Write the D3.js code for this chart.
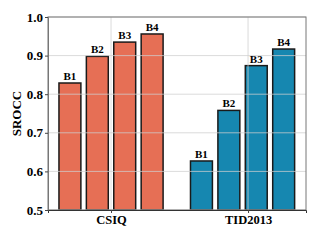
<!DOCTYPE html>
<html lang="en">
<head>
    <meta charset="UTF-8">
    <title>SROCC bars</title>
    <style>
        body { margin: 0; background: #fff; }
        svg { display: block; font-family: 'Liberation Serif', 'DejaVu Serif', serif; font-weight: bold; }
    </style>
</head>
<body>
    <svg width="320" height="240"></svg>
    <script src="https://d3js.org/d3.v7.min.js"></script>
    <script>
        const datasets = ["CSIQ", "TID2013"];
        const tickPos = [0, 1];          // category tick positions (x units)
        const groupPos = [0, 0.96];      // where each group of bars is centred
        const blocks = ["B1", "B2", "B3", "B4"];
        const blockOffsets = [-0.3, -0.1, 0.1, 0.3];
        const csiqValues = [0.829, 0.898, 0.935, 0.956];
        const tidValues = [0.627, 0.758, 0.874, 0.917];
        const yTicks = [0.5, 0.6, 0.7, 0.8, 0.9, 1.0];
        const colors = ["#E66F55", "#1687B0"];
        const barWidth = 0.16;

        const rows = [];
        datasets.forEach((ds, i) => {
            const vals = i === 0 ? csiqValues : tidValues;
            blocks.forEach((b, j) => rows.push({ g: i, block: b, pos: groupPos[i] + blockOffsets[j], value: vals[j] }));
        });

        const margin = { top: 17, right: 14, bottom: 30, left: 48 };
        const width = 320, height = 240;
        const svg = d3.select("svg");

        const x = d3.scaleLinear().domain([-0.46, 1.423]).range([margin.left, width - margin.right]);
        const y = d3.scaleLinear().domain([0.5, 1.0]).range([height - margin.bottom, margin.top]);

        // bars
        svg.append("g").selectAll("rect").data(rows).join("rect")
            .attr("x", d => x(d.pos - barWidth / 2))
            .attr("y", d => y(d.value))
            .attr("width", x(barWidth) - x(0))
            .attr("height", d => y(0.5) - y(d.value))
            .attr("fill", d => colors[d.g])
            .attr("stroke", "#1a1a1a").attr("stroke-width", 1.5);

        // grid (drawn over the bars, faint)
        const grid = svg.append("g").attr("stroke", "#cfcfcf").attr("stroke-opacity", 0.75).attr("stroke-width", 1);
        grid.selectAll("line.h").data(yTicks).join("line")
            .attr("x1", margin.left).attr("x2", width - margin.right)
            .attr("y1", d => y(d)).attr("y2", d => y(d));
        grid.selectAll("line.v").data(tickPos).join("line")
            .attr("x1", d => x(d)).attr("x2", d => x(d))
            .attr("y1", margin.top).attr("y2", height - margin.bottom);

        svg.append("g").selectAll("text").data(rows).join("text")
            .attr("x", d => x(d.pos))
            .attr("y", d => y(d.value) - 3)
            .attr("text-anchor", "middle")
            .attr("font-size", 11)
            .attr("fill", "#000")
            .text(d => d.block);

        // frame
        svg.append("rect")
            .attr("x", margin.left).attr("y", margin.top)
            .attr("width", width - margin.left - margin.right)
            .attr("height", height - margin.top - margin.bottom)
            .attr("fill", "none").attr("stroke", "#777").attr("stroke-width", 1);

        const yAxis = svg.append("g")
            .attr("transform", `translate(${margin.left},0)`)
            .call(d3.axisLeft(y).tickValues(yTicks).tickFormat(d3.format(".1f")).tickSize(3).tickPadding(2))
            .attr("font-family", null).attr("font-size", 13);
        yAxis.select(".domain").attr("stroke", "#777");
        yAxis.selectAll("text").attr("fill", "#000");
        yAxis.selectAll(".tick line").attr("stroke", "#444");

        const xAxis = svg.append("g")
            .attr("transform", `translate(0,${height - margin.bottom})`)
            .call(d3.axisBottom(x).tickValues(tickPos).tickFormat((d, i) => datasets[i]).tickSize(3).tickPadding(2))
            .attr("font-family", null).attr("font-size", 12.5);
        xAxis.select(".domain").attr("stroke", "#333");
        xAxis.selectAll("text").attr("fill", "#000");
        xAxis.selectAll(".tick line").attr("stroke", "#444");

        svg.append("text")
            .attr("transform", `translate(21,${(margin.top + height - margin.bottom) / 2}) rotate(-90)`)
            .attr("text-anchor", "middle")
            .attr("font-size", 13)
            .text("SROCC");
    </script>
</body>
</html>
